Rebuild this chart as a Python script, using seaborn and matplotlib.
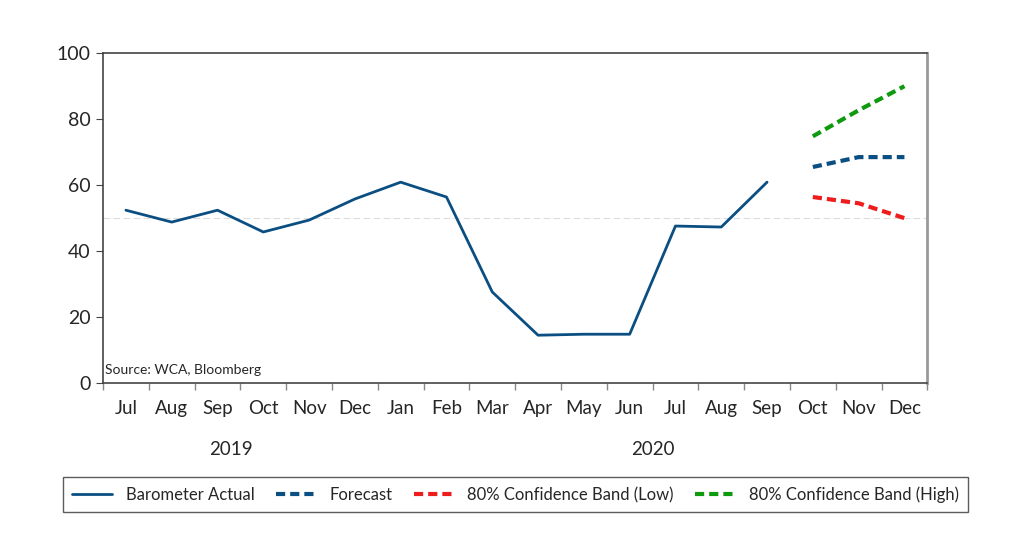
import numpy as np
import pandas as pd
import matplotlib
matplotlib.use("Agg")
import matplotlib.pyplot as plt
import seaborn as sns

# Data
months = ["Jul", "Aug", "Sep", "Oct", "Nov", "Dec",
          "Jan", "Feb", "Mar", "Apr", "May", "Jun",
          "Jul", "Aug", "Sep", "Oct", "Nov", "Dec"]
actual = [52.4, 48.8, 52.4, 45.8, 49.4, 55.8, 60.9, 56.4, 27.6,
          14.5, 14.8, 14.8, 47.6, 47.3, 60.9]
forecast = [65.5, 68.5, 68.5]
band_low = [56.4, 54.5, 50.0]
band_high = [74.8, 82.7, 90.0]
years = ["2019", "2020"]

sns.set_style("white")
plt.rcParams["font.family"] = ["Lato", "DejaVu Sans"]

fig = plt.figure(figsize=(10.24, 5.6), dpi=100)
ax = fig.add_axes([0.1006, 0.316, 0.805, 0.589])

x_all = np.arange(len(months))
n_act = len(actual)
x_fc = x_all[n_act:]

blue = "#0b4f82"
dash = (0, (2.2, 1.2))
sns.lineplot(x=x_all[:n_act], y=actual, ax=ax, color=blue, lw=2,
             label="Barometer Actual")
sns.lineplot(x=x_fc, y=forecast, ax=ax, color=blue, lw=3,
             linestyle=dash, label="Forecast")
sns.lineplot(x=x_fc, y=band_low, ax=ax, color="#ee1c1c", lw=3,
             linestyle=dash, label="80% Confidence Band (Low)")
sns.lineplot(x=x_fc, y=band_high, ax=ax, color="#0e9a0e", lw=3,
             linestyle=dash, label="80% Confidence Band (High)")

# reference line at 50
ax.axhline(50, color="#dddddd", lw=0.8, ls=(0, (6, 3)), zorder=0)

ax.set_xlim(-0.5, len(months) - 0.5)
ax.set_ylim(0, 100)
ax.set_yticks([0, 20, 40, 60, 80, 100])
ax.set_xticks(x_all)
ax.set_xticklabels(months)
ax.set_xticks(np.arange(-0.5, len(months), 1.0), minor=True)
ax.tick_params(axis="x", which="major", length=0, pad=12, labelsize=13.5)
ax.tick_params(axis="x", which="minor", length=5, color="#888888", width=1)
ax.tick_params(axis="y", length=5, color="#444444", labelsize=14, pad=4)
ax.tick_params(bottom=True, left=True, which="both")

for side in ["left", "bottom", "top"]:
    ax.spines[side].set_color("#444444")
    ax.spines[side].set_linewidth(1.2)
ax.spines["right"].set_color("#999999")
ax.spines["right"].set_linewidth(2)

ax.text(2.3, -0.2, years[0], transform=ax.get_xaxis_transform(),
        ha="center", va="center", fontsize=13.5)
ax.text(11.5, -0.2, years[1], transform=ax.get_xaxis_transform(),
        ha="center", va="center", fontsize=13.5)
ax.text(-0.45, 2, "Source: WCA, Bloomberg", fontsize=10, ha="left", va="bottom")

handles, labels = ax.get_legend_handles_labels()
ax.get_legend().remove()
leg = fig.legend(handles, labels, ncol=4, loc="center",
                 bbox_to_anchor=(0.5034, 0.1165), frameon=True,
                 fontsize=12, handlelength=2.4, columnspacing=1.3,
                 fancybox=False, borderpad=0.55)
leg.get_frame().set_edgecolor("#333333")
leg.get_frame().set_linewidth(1)

fig.savefig("out.png", dpi=100)
